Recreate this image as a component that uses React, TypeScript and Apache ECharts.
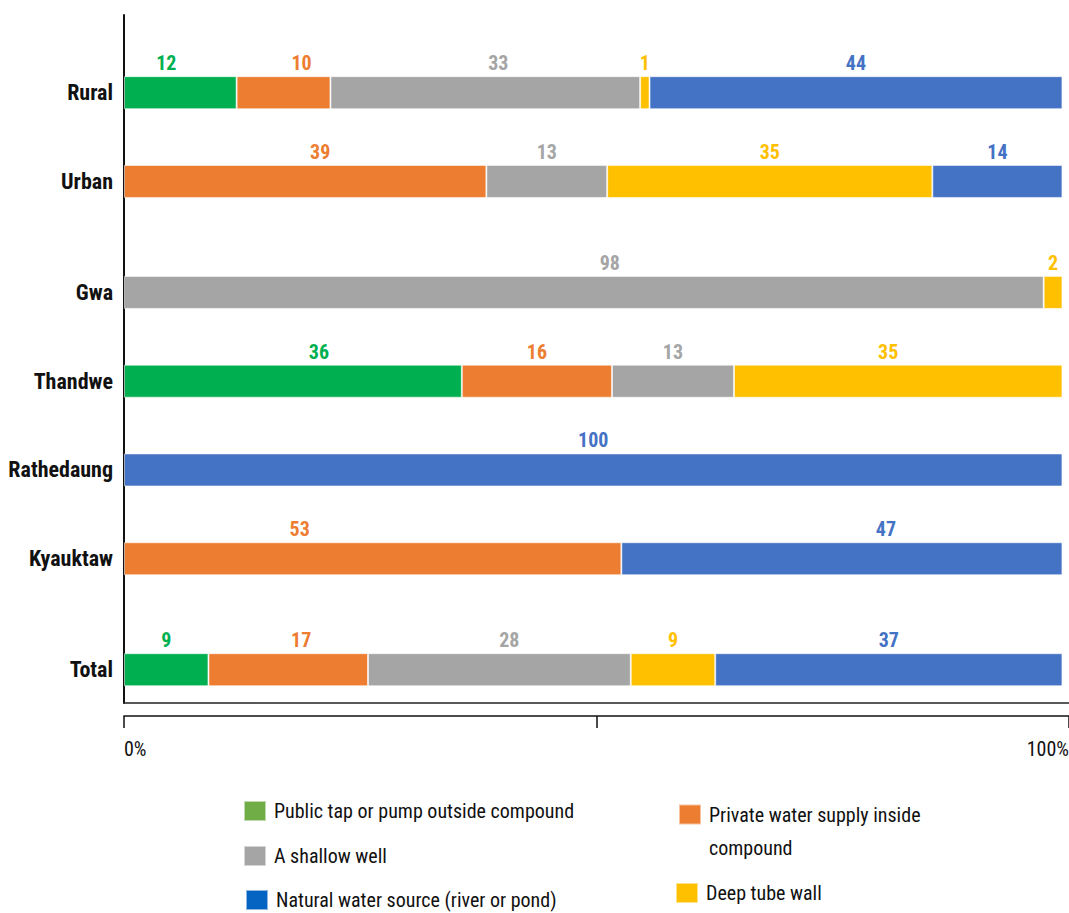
import { useEffect, useRef } from 'react';
import * as echarts from 'echarts';

// ---------- data ----------
const categories = ['Rural', 'Urban', 'Gwa', 'Thandwe', 'Rathedaung', 'Kyauktaw', 'Total'];
const seriesNames = [
  'Public tap or pump outside compound',
  'Private water supply inside compound',
  'A shallow well',
  'Deep tube wall',
  'Natural water source (river or pond)',
];
const publicTap = [12, 0, 0, 36, 0, 0, 9];
const privateSupply = [10, 39, 0, 16, 0, 53, 17];
const shallowWell = [33, 13, 98, 13, 0, 0, 28];
const deepTube = [1, 35, 2, 35, 0, 0, 9];
const naturalSource = [44, 14, 0, 0, 100, 47, 37];
const xTickValues = [0, 50, 100];
const xTickLabels = ['0%', '', '100%'];

// ---------- layout / style ----------
const FONT = '"Roboto Condensed", "Open Sans Condensed", "DejaVu Sans Condensed", sans-serif';
const barColors = ['#00B050', '#ED7D31', '#A5A5A5', '#FFC000', '#4472C4'];
const legendColors = ['#70AD47', '#ED7D31', '#A5A5A5', '#FFC000', '#0563C1'];
const SLOT_COUNT = 31;
const ROW_SLOTS = [3, 7, 12, 16, 20, 24, 29];
// horizontal nudges of some value labels, as placed in the original: [row, series, dx px]
const LABEL_NUDGES: [number, number, number][] = [
  [0, 0, -14], [0, 1, 18], [0, 2, 13],
  [1, 1, 15],
  [2, 2, 26],
  [3, 0, 26], [3, 3, -10],
  [5, 1, -73], [5, 4, 44],
  [6, 1, 13], [6, 2, 10],
];

export default function App() {
  const ref = useRef<HTMLDivElement>(null);

  useEffect(() => {
    if (!ref.current) return;
    const chart = echarts.init(ref.current, undefined, { renderer: 'svg' });

    const raw = [publicTap, privateSupply, shallowWell, deepTube, naturalSource];
    const rowTotals = categories.map((_, r) => raw.reduce((s, arr) => s + arr[r], 0));

    const slotLabels: string[] = Array(SLOT_COUNT).fill('');
    const slotToRow: number[] = Array(SLOT_COUNT).fill(-1);
    ROW_SLOTS.forEach((s, r) => {
      slotLabels[s] = categories[r];
      slotToRow[s] = r;
    });

    const nudge = (r: number, si: number) => {
      const n = LABEL_NUDGES.find((x) => x[0] === r && x[1] === si);
      return n ? n[2] : 0;
    };

    const series = raw.map((arr, si) => ({
      name: seriesNames[si],
      type: 'bar',
      stack: 'all',
      barWidth: 33,
      itemStyle: {
        color: barColors[si],
        borderColor: 'rgba(255,255,255,0.55)',
        borderWidth: 1,
      },
      label: {
        show: true,
        position: 'top',
        distance: 3,
        color: barColors[si],
        fontFamily: FONT,
        fontWeight: 'bold',
        fontSize: 20,
        formatter: (p: any) => {
          const r = slotToRow[p.dataIndex];
          return r >= 0 && arr[r] ? String(arr[r]) : '';
        },
      },
      data: slotToRow.map((r) =>
        r >= 0 && arr[r]
          ? {
              value: (arr[r] / rowTotals[r]) * 100,
              label: { offset: [nudge(r, si), 0] },
            }
          : '-'
      ),
    }));

    const legendBase = {
      orient: 'horizontal',
      padding: 0,
      icon: 'rect',
      itemWidth: 22,
      itemHeight: 20,
      selectedMode: false,
      textStyle: {
        fontFamily: FONT,
        fontSize: 20,
        color: '#111',
        padding: [0, 0, 0, 3],
      },
    };

    const mkLegend = (i: number, left: number, top: number, extra: any = {}) => ({
      ...legendBase,
      left,
      top,
      data: [{ name: seriesNames[i], itemStyle: { color: legendColors[i] } }],
      ...extra,
    });

    chart.setOption({
      animation: false,
      backgroundColor: '#ffffff',
      grid: { left: 124, right: 0, top: 15, bottom: 210, containLabel: false, outerBoundsMode: 'none' },
      xAxis: [
        {
          type: 'value',
          min: 0,
          max: 100.7,
          axisLine: { show: true, onZero: false, lineStyle: { color: '#222', width: 1.5 } },
          axisTick: { show: false },
          axisLabel: { show: false },
          splitLine: { show: false },
        },
        {
          type: 'value',
          position: 'bottom',
          offset: 13,
          min: 0,
          max: 100,
          interval: 50,
          axisLine: { show: true, onZero: false, lineStyle: { color: '#111', width: 1.5 } },
          axisTick: { show: true, length: 12, lineStyle: { color: '#111', width: 1.5 } },
          axisLabel: {
            show: true,
            margin: 23,
            fontFamily: FONT,
            fontSize: 20,
            color: '#111',
            alignMinLabel: 'left',
            alignMaxLabel: 'right',
            formatter: (v: number) => {
              const i = xTickValues.indexOf(v);
              return i >= 0 ? xTickLabels[i] : '';
            },
          },
          splitLine: { show: false },
        },
      ],
      yAxis: {
        type: 'category',
        inverse: true,
        data: slotLabels,
        axisLine: { show: true, lineStyle: { color: '#111', width: 2 } },
        axisTick: { show: false },
        axisLabel: {
          interval: 0,
          margin: 11,
          fontFamily: FONT,
          fontWeight: 'bold',
          fontSize: 22,
          color: '#111',
        },
        splitLine: { show: false },
      },
      legend: [
        mkLegend(0, 243, 800),
        mkLegend(2, 243, 845),
        mkLegend(4, 245, 889),
        mkLegend(1, 678, 765, {
          formatter: '\nPrivate water supply inside\ncompound',
          textStyle: { ...legendBase.textStyle, lineHeight: 33 },
        }),
        mkLegend(3, 675, 882),
      ],
      series,
    });

    return () => chart.dispose();
  }, []);

  return (
    <div
      ref={ref}
      style={{ position: 'absolute', left: 0, top: 0, width: 1069, height: 913, background: '#fff' }}
    />
  );
}
